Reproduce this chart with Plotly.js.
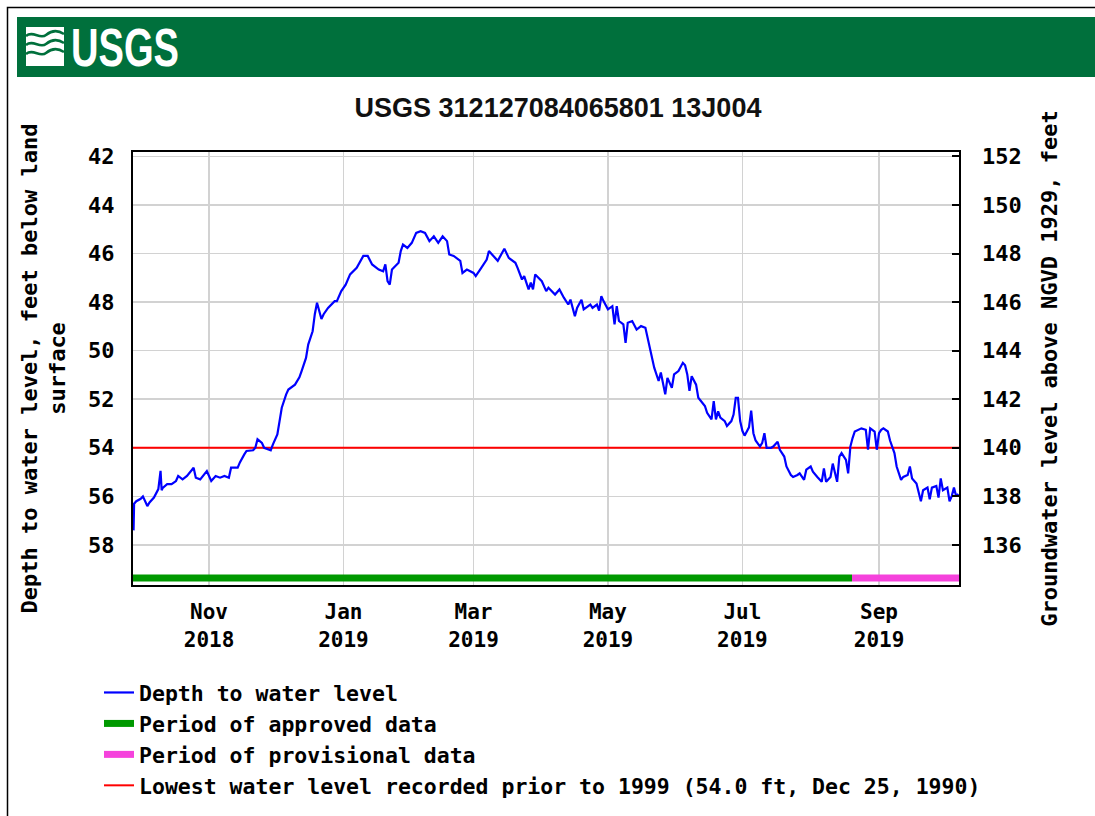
<!DOCTYPE html>
<html>
<head>
<meta charset="utf-8">
<script src="https://cdn.plot.ly/plotly-3.0.1.min.js"></script>
<style>
  html, body { margin: 0; padding: 0; background: #ffffff; }
  #chart { width: 1095px; height: 816px; }
</style>
</head>
<body>
<div id="chart"></div>
<script>
// ---------------- DATA ----------------
const chartTitle = "USGS 312127084065801 13J004";

const levelDates = [
  "2018-09-27 18:00","2018-09-28","2018-09-29","2018-10-01","2018-10-02","2018-10-04","2018-10-05","2018-10-07",
  "2018-10-09","2018-10-10","2018-10-10 12:00","2018-10-11","2018-10-13","2018-10-15","2018-10-17","2018-10-18",
  "2018-10-20","2018-10-22","2018-10-25","2018-10-26","2018-10-28","2018-10-31","2018-11-02","2018-11-04",
  "2018-11-06","2018-11-08","2018-11-10","2018-11-11","2018-11-14","2018-11-15","2018-11-17","2018-11-18",
  "2018-11-21","2018-11-22","2018-11-23","2018-11-25","2018-11-26","2018-11-27","2018-11-29","2018-11-30",
  "2018-12-02","2018-12-03","2018-12-04","2018-12-06","2018-12-07","2018-12-10","2018-12-12","2018-12-13",
  "2018-12-15","2018-12-16","2018-12-18","2018-12-19","2018-12-20","2018-12-22","2018-12-23","2018-12-25",
  "2018-12-28","2018-12-29","2018-12-31","2019-01-02","2019-01-04","2019-01-07","2019-01-09","2019-01-10",
  "2019-01-12","2019-01-14","2019-01-17","2019-01-19","2019-01-20","2019-01-21","2019-01-22","2019-01-23",
  "2019-01-26","2019-01-27","2019-01-28","2019-01-30","2019-02-01","2019-02-03","2019-02-05","2019-02-07",
  "2019-02-09","2019-02-11","2019-02-13","2019-02-15","2019-02-17","2019-02-18","2019-02-20","2019-02-23",
  "2019-02-24","2019-02-26","2019-03-01","2019-03-02","2019-03-04","2019-03-07","2019-03-08","2019-03-10",
  "2019-03-12","2019-03-14","2019-03-15","2019-03-17","2019-03-20","2019-03-21","2019-03-23","2019-03-24",
  "2019-03-26","2019-03-27","2019-03-28","2019-03-29","2019-04-01","2019-04-03","2019-04-04","2019-04-07",
  "2019-04-09","2019-04-11","2019-04-13","2019-04-14","2019-04-16","2019-04-17","2019-04-19","2019-04-20",
  "2019-04-23","2019-04-24","2019-04-26","2019-04-27","2019-04-28","2019-04-29","2019-05-01","2019-05-03",
  "2019-05-04","2019-05-05","2019-05-06","2019-05-08","2019-05-09","2019-05-10","2019-05-12","2019-05-14",
  "2019-05-16","2019-05-18","2019-05-19","2019-05-20","2019-05-21","2019-05-22","2019-05-24","2019-05-25",
  "2019-05-27","2019-05-28","2019-05-30","2019-05-31","2019-06-02","2019-06-04","2019-06-05","2019-06-06",
  "2019-06-07","2019-06-08","2019-06-10","2019-06-11","2019-06-14","2019-06-15","2019-06-17","2019-06-18",
  "2019-06-19","2019-06-20","2019-06-21","2019-06-23","2019-06-24","2019-06-26","2019-06-27","2019-06-28",
  "2019-06-29","2019-06-30","2019-07-01","2019-07-02","2019-07-04","2019-07-05","2019-07-06","2019-07-07",
  "2019-07-09","2019-07-10","2019-07-11","2019-07-12","2019-07-14","2019-07-15","2019-07-17","2019-07-18",
  "2019-07-20","2019-07-21","2019-07-23","2019-07-24","2019-07-26","2019-07-27","2019-07-29","2019-07-30",
  "2019-08-01","2019-08-02","2019-08-04","2019-08-06","2019-08-07","2019-08-08","2019-08-10","2019-08-11",
  "2019-08-13","2019-08-14","2019-08-15","2019-08-17","2019-08-18","2019-08-19","2019-08-20","2019-08-21",
  "2019-08-24","2019-08-26","2019-08-27","2019-08-28","2019-08-30","2019-08-31","2019-09-01","2019-09-02",
  "2019-09-03","2019-09-05","2019-09-06","2019-09-08","2019-09-09","2019-09-11","2019-09-12","2019-09-14",
  "2019-09-15","2019-09-16","2019-09-18","2019-09-19","2019-09-20","2019-09-21","2019-09-23","2019-09-24",
  "2019-09-25","2019-09-27","2019-09-28","2019-09-29","2019-09-30","2019-10-02","2019-10-03","2019-10-04",
  "2019-10-05","2019-10-06","2019-10-07"
];
const depthToWater = [
  57.4,56.3,56.2,56.1,56.0,56.4,56.25,56.05,
  55.7,54.95,55.75,55.65,55.5,55.5,55.37,55.16,
  55.3,55.16,54.82,55.23,55.3,54.96,55.37,55.16,
  55.23,55.16,55.23,54.82,54.82,54.6,54.27,54.13,
  54.1,54.0,53.65,53.8,54.0,54.04,54.1,53.86,
  53.45,52.9,52.35,51.8,51.6,51.4,51.1,50.84,
  50.3,49.75,49.2,48.5,48.03,48.7,48.5,48.24,
  47.96,47.96,47.55,47.28,46.86,46.59,46.25,46.1,
  46.1,46.45,46.66,46.73,46.45,47.14,47.28,46.66,
  46.38,45.9,45.63,45.77,45.56,45.15,45.08,45.15,
  45.49,45.29,45.56,45.29,45.49,46.04,46.1,46.3,
  46.8,46.66,46.8,46.93,46.66,46.25,45.9,46.1,
  46.3,45.97,45.8,46.18,46.38,46.59,47.07,46.93,
  47.48,47.2,47.48,46.86,47.14,47.55,47.41,47.69,
  47.48,47.82,48.1,47.9,48.58,48.24,47.9,48.3,
  48.1,48.24,48.1,48.35,47.76,47.96,48.3,48.17,
  48.92,48.17,48.78,48.92,49.68,48.85,48.78,49.13,
  48.99,49.06,49.47,50.02,50.29,50.7,51.25,50.9,
  51.8,51.12,51.53,50.98,50.84,50.5,50.6,50.98,
  51.66,51.05,51.4,51.94,52.28,52.56,52.83,52.08,
  52.83,52.5,52.76,52.9,53.1,52.9,52.63,51.94,
  51.94,52.9,53.3,53.5,53.16,52.47,53.4,53.7,
  53.95,53.8,53.4,54.0,54.0,53.95,53.75,54.08,
  54.36,54.77,55.12,55.2,55.12,55.05,55.32,54.9,
  54.77,54.98,55.2,55.4,54.85,55.4,55.2,54.65,
  55.4,54.36,54.22,54.5,55.05,53.95,53.6,53.33,
  53.2,53.26,54.08,53.2,53.33,54.08,53.4,53.26,
  53.2,53.33,53.7,54.22,54.77,55.32,55.2,55.12,
  54.77,55.26,55.47,55.82,56.2,55.75,55.64,56.12,
  55.64,55.57,56.05,55.26,55.75,55.64,56.2,55.99,
  55.64,55.99,55.9
];

const approvedPeriod = ["2018-09-26", "2019-08-19 18:00"];
const provisionalPeriod = ["2019-08-19 18:00", "2019-10-08"];
const lowestPrior1999 = 54.0;   // ft, Dec 25, 1990
const datumOffset = 194;        // groundwater level = 194 - depth (NGVD 1929)

const xTickDates = ["2018-11-01","2019-01-01","2019-03-01","2019-05-01","2019-07-01","2019-09-01"];
const xTickText  = ["Nov<br>2018","Jan<br>2019","Mar<br>2019","May<br>2019","Jul<br>2019","Sep<br>2019"];
const depthTicks = [42,44,46,48,50,52,54,56,58];
const levelTicks = [136,138,140,142,144,146,148,150,152];

const legendNames = [
  "Depth to water level",
  "Period of approved data",
  "Period of provisional data",
  "Lowest water level recorded prior to 1999 (54.0 ft, Dec 25, 1990)"
];

// ---------------- LAYOUT HELPERS ----------------
const W = 1095, H = 816;
const PL = 133, PR = 959, PT = 152, PB = 585;
const px2x = p => (p - PL) / (PR - PL);
const py2y = p => (PB - p) / (PB - PT);
const xRange = ["2018-09-27 12:00", "2019-10-07 07:00"];
const depthRange = [59.65, 41.82];
const levelRange = [datumOffset - depthRange[0], datumOffset - depthRange[1]];
const barDepth = 59.36;

const MONO = '"DejaVu Sans Mono", "Liberation Mono", monospace';
const monoFont = { family: MONO, size: 22, color: "#000000", weight: "bold" };
const tickFontX = { family: MONO, size: 21, color: "#000000", weight: "bold" };
const legendFont = { family: MONO, size: 21.5, color: "#000000", weight: "bold" };

function pathPx(cmds) {
  return cmds.map(c => {
    const letter = c[0];
    const nums = [];
    for (let i = 1; i < c.length; i += 2) {
      nums.push(px2x(c[i]).toFixed(5) + "," + py2y(c[i + 1]).toFixed(5));
    }
    return letter + nums.join(" ");
  }).join(" ");
}

// ---------------- TRACES ----------------
const traces = [
  {
    x: approvedPeriod, y: approvedPeriod.map(() => barDepth),
    mode: "lines", name: legendNames[1], legendrank: 2,
    line: { color: "#009900", width: 7 }, hoverinfo: "skip"
  },
  {
    x: provisionalPeriod, y: provisionalPeriod.map(() => barDepth),
    mode: "lines", name: legendNames[2], legendrank: 3,
    line: { color: "#f542dc", width: 7 }, hoverinfo: "skip"
  },
  {
    x: xRange, y: xRange.map(() => lowestPrior1999),
    mode: "lines", name: legendNames[3], legendrank: 4,
    line: { color: "#ff0000", width: 2 }
  },
  {
    x: levelDates, y: depthToWater,
    mode: "lines", name: legendNames[0], legendrank: 1,
    line: { color: "#0000ff", width: 2.2 }
  },
  {
    x: [], y: [], yaxis: "y2", showlegend: false, hoverinfo: "skip", mode: "lines"
  }
];

// ---------------- LAYOUT ----------------
const wave = (y0) => pathPx([
  ["M", 26, y0],
  ["C", 33, y0 - 6, 40, y0 + 4, 46, y0 - 1],
  ["S", 58, y0 - 6, 64, y0 - 2]
]);

const layout = {
  width: W, height: H,
  margin: { l: PL, r: W - PR, t: PT, b: H - PB, pad: 0, autoexpand: false },
  paper_bgcolor: "#ffffff",
  plot_bgcolor: "#ffffff",
  showlegend: true,
  title: {
    text: chartTitle,
    font: { family: '"Liberation Sans", Arial, sans-serif', size: 27, color: "#111111", weight: "bold" },
    x: 558 / W, xref: "container", xanchor: "center",
    y: 1 - 108 / H, yref: "container", yanchor: "middle"
  },
  xaxis: {
    type: "date", range: xRange, automargin: false,
    tickmode: "array", tickvals: xTickDates, ticktext: xTickText,
    ticks: "", ticklabelstandoff: 7,
    tickfont: tickFontX,
    showgrid: true, gridcolor: "#d2d2d2", gridwidth: 1.5,
    showline: true, mirror: true, linecolor: "#000000", linewidth: 2,
    zeroline: false, fixedrange: true
  },
  yaxis: {
    range: depthRange, automargin: false,
    tickmode: "array", tickvals: depthTicks,
    ticks: "", ticklabelstandoff: 12,
    tickfont: monoFont,
    showgrid: true, gridcolor: "#d2d2d2", gridwidth: 1.5,
    showline: true, mirror: true, linecolor: "#000000", linewidth: 2,
    zeroline: false, fixedrange: true,
    title: { text: "Depth to water level, feet below land<br>surface", font: monoFont, standoff: 16 }
  },
  yaxis2: {
    overlaying: "y", side: "right", range: levelRange, automargin: false,
    tickmode: "array", tickvals: levelTicks,
    ticks: "inside", ticklen: 7, tickwidth: 2, tickcolor: "#000000",
    ticklabelstandoff: 22,
    tickfont: monoFont,
    showgrid: false, zeroline: false, showline: false, fixedrange: true,
    title: { text: "Groundwater level above NGVD 1929, feet", font: monoFont, standoff: 20 }
  },
  legend: {
    x: px2x(99), y: py2y(672), xref: "paper", yref: "paper",
    xanchor: "left", yanchor: "top",
    font: legendFont, bgcolor: "rgba(0,0,0,0)", borderwidth: 0,
    traceorder: "normal"
  },
  shapes: [
    { type: "rect", xref: "paper", yref: "paper", layer: "below",
      x0: px2x(17), x1: px2x(1110), y0: py2y(17), y1: py2y(77),
      fillcolor: "#00703c", line: { width: 0 } },
    { type: "rect", xref: "paper", yref: "paper", layer: "above",
      x0: px2x(26), x1: px2x(64), y0: py2y(27), y1: py2y(66),
      fillcolor: "#ffffff", line: { width: 0 } },
    { type: "path", xref: "paper", yref: "paper", layer: "above", path: wave(36), line: { color: "#00703c", width: 2.5 } },
    { type: "path", xref: "paper", yref: "paper", layer: "above", path: wave(45), line: { color: "#00703c", width: 2.5 } },
    { type: "path", xref: "paper", yref: "paper", layer: "above", path: wave(54), line: { color: "#00703c", width: 2.5 } },
    { type: "rect", xref: "paper", yref: "paper", layer: "above",
      x0: px2x(7.5), x1: px2x(1120), y0: py2y(7.5), y1: py2y(840),
      fillcolor: "rgba(0,0,0,0)", line: { color: "#000000", width: 1.5 } }
  ],
  annotations: [
    { text: "USGS", xref: "paper", yref: "paper", x: px2x(69), y: py2y(47),
      xanchor: "left", yanchor: "middle", showarrow: false,
      font: { family: '"Liberation Sans", Arial, sans-serif', size: 54, color: "#ffffff", weight: "bold" } }
  ]
};

Plotly.newPlot("chart", traces, layout, { staticPlot: true, displayModeBar: false }).then(gd => {
  // condense the USGS wordmark horizontally (logo lettering is a narrow face)
  const t = gd.querySelector("g.annotation text.annotation-text");
  if (t) {
    const bb = t.getBBox();
    const s = 108 / bb.width;
    const prev = t.getAttribute("transform") || "";
    t.setAttribute("transform",
      "translate(" + bb.x + ",0) scale(" + s.toFixed(4) + ",1) translate(" + (-bb.x) + ",0) " + prev);
  }
});
</script>
</body>
</html>
